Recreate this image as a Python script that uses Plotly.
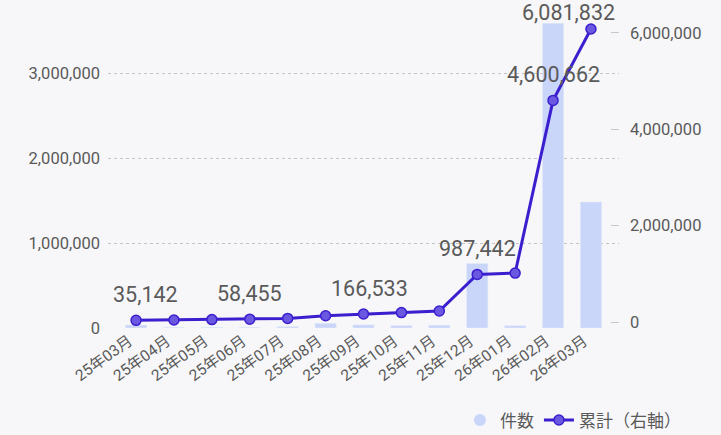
import plotly.graph_objects as go

months = ["25年03月", "25年04月", "25年05月", "25年06月", "25年07月", "25年08月", "25年09月",
          "25年10月", "25年11月", "25年12月", "26年01月", "26年02月", "26年03月"]
monthly_counts = [35000, 7000, 8000, 8500, 16500, 55000, 36500, 28500, 33000,
                  759000, 27500, 3585700, 1481200]
cumulative = [35142, 42000, 50000, 58455, 75000, 130000, 166533, 195000, 228000,
              987442, 1015000, 4600662, 6081832]
labeled_idx = [0, 3, 6, 9, 11, 12]
left_ticks = [0, 1000000, 2000000, 3000000]
right_ticks = [0, 2000000, 4000000, 6000000]

BAR = "#cad5fa"
LINE = "#3b1fcf"
MARK = "#6a58e0"
TXT = "#5a5a5a"
FONT = "Roboto, Noto Sans CJK JP, sans-serif"

# label offsets (style): xshift, yshift in px
label_shift = {0: (9, 11), 3: (0, 11), 6: (6, 11), 9: (0, 11), 11: (0, 11), 12: (-22, 2)}

fig = go.Figure()
fig.add_trace(go.Bar(x=months, y=monthly_counts, marker_color=BAR, width=0.56,
                     showlegend=False, name="件数", yaxis="y"))
fig.add_trace(go.Scatter(x=[None], y=[None], mode="markers", name="件数",
                         marker=dict(color=BAR, size=12, symbol="circle")))
fig.add_trace(go.Scatter(x=months, y=cumulative, mode="lines+markers", name="累計（右軸）",
                         yaxis="y2", line=dict(color=LINE, width=3),
                         marker=dict(color=MARK, size=10, line=dict(color=LINE, width=1.5))))

for i in labeled_idx:
    dx, dy = label_shift[i]
    fig.add_annotation(x=months[i], y=cumulative[i], yref="y2", xref="x",
                       text=f"{cumulative[i]:,}", showarrow=False,
                       yanchor="bottom", xanchor="center", xshift=dx, yshift=dy,
                       font=dict(family=FONT, size=21.5, color=TXT))

fig.update_layout(
    width=721, height=435,
    margin=dict(l=108, r=102, t=20, b=107, autoexpand=False),
    paper_bgcolor="#f7f7f9", plot_bgcolor="#f7f7f9",
    font=dict(family=FONT, color=TXT),
    xaxis=dict(range=[-0.74, 12.74], tickangle=-36, tickfont=dict(size=15.5, color=TXT),
               showgrid=False, showline=False, zeroline=False, ticks="", automargin=False,
               ticklabelshift=-7),
    yaxis=dict(range=[0, 3623500], tickvals=left_ticks, tickformat=",",
               tickfont=dict(size=16.5, color=TXT), showgrid=True, gridcolor="#c4c4c4",
               griddash="dot", gridwidth=1, zeroline=False, showline=False,
               ticklabelstandoff=7, automargin=False),
    yaxis2=dict(range=[-124600, 6269500], tickvals=right_ticks, tickformat=",",
                overlaying="y", side="right", showgrid=False, zeroline=False,
                tickfont=dict(size=16.5, color=TXT), ticks="inside", ticklen=8,
                tickcolor="#c8c8c8", ticklabelstandoff=10, automargin=False),
    legend=dict(orientation="h", x=1.131, xanchor="right", y=-0.30, yanchor="middle",
                font=dict(size=17, color=TXT), bgcolor="rgba(0,0,0,0)",
                itemwidth=30, tracegroupgap=0),
)

fig.write_html("out.html", post_script="document.body.style.margin='0';",
               config={"displayModeBar": False})
